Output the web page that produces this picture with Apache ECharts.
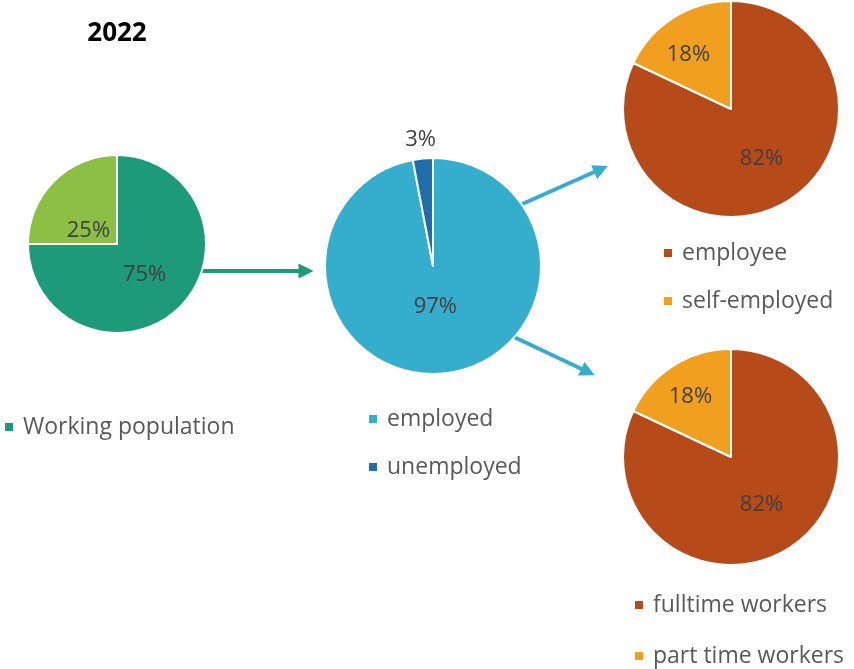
<!DOCTYPE html>
<html>
<head>
<meta charset="utf-8">
<script src="https://cdn.jsdelivr.net/npm/echarts@6/dist/echarts.min.js"></script>
<style>html,body{margin:0;padding:0;background:#fff;}#c{width:854px;height:669px;}</style>
</head>
<body>
<div id="c"></div>
<script>
const titleText = '2022';
const populationNames = ['Working population', 'Non-working population'];
const populationValues = [75, 25];
const employmentNames = ['employed', 'unemployed'];
const employmentValues = [97, 3];
const workerTypeNames = ['employee', 'self-employed'];
const workerTypeValues = [82, 18];
const workTimeNames = ['fulltime workers', 'part time workers'];
const workTimeValues = [82, 18];

const FONT = 'Open Sans';
const chart = echarts.init(document.getElementById('c'), null, {renderer: 'canvas'});

function pieSeries(names, values, colors, center, radius, offsets) {
  return {
    type: 'pie',
    center: center,
    radius: radius,
    startAngle: 90,
    clockwise: true,
    avoidLabelOverlap: false,
    silent: true,
    itemStyle: {borderColor: '#fff', borderWidth: 2},
    label: {show: true, position: 'inside', formatter: '{c}%', color: '#404040', fontSize: 22, fontFamily: FONT},
    labelLine: {show: false},
    data: names.map((n, i) => ({
      name: n, value: values[i],
      itemStyle: {color: colors[i]},
      label: {offset: offsets[i]}
    }))
  };
}

function legend(data, left, top, gap) {
  return {
    data: data, left: left, top: top, orient: 'vertical',
    icon: 'rect', itemWidth: 10, itemHeight: 10, itemGap: gap,
    padding: 0, height: 200,
    selectedMode: false,
    textStyle: {fontSize: 23, lineHeight: 24, color: '#595959', fontFamily: FONT, padding: [0, 0, 0, 4]}
  };
}

const green = '#1D9A78', blue = '#35AECE';
const arrows = [
  {coords: [[200, 271], [306, 271]], lineStyle: {color: green}},
  {coords: [[520, 205], [601, 169]], lineStyle: {color: blue}},
  {coords: [[514, 337], [588, 372]], lineStyle: {color: blue}}
];

chart.setOption({
  animation: false,
  title: {text: titleText, left: 117, top: 19, textAlign: 'center', padding: 0,
    textStyle: {fontSize: 26, lineHeight: 30, fontWeight: 'bold', color: '#000', fontFamily: FONT}},
  grid: {left: 0, right: 0, top: 0, bottom: 0, show: false},
  xAxis: {type: 'value', min: 0, max: 854, show: false},
  yAxis: {type: 'value', min: 0, max: 669, inverse: true, show: false},
  legend: [
    legend(['Working population'], 3, 415, 24),
    legend(employmentNames, 367, 407, 24),
    legend(workerTypeNames, 662, 241, 24),
    legend(workTimeNames, 633, 593, 27)
  ],
  series: [
    pieSeries(populationNames, populationValues, ['#1D9A78', '#8CBF44'], [117, 244], 89, [[-6, -3], [5, 20]]),
    pieSeries(employmentNames, employmentValues, ['#35AECE', '#1F6DA9'], [433, 266], 108, [[-3, -16], [-7, -70]]),
    pieSeries(workerTypeNames, workerTypeValues, ['#B64A19', '#F09F1E'], [731, 109], 108, [[0, 2], [-12, -6]]),
    pieSeries(workTimeNames, workTimeValues, ['#B64A19', '#F09F1E'], [731, 457], 108, [[0, 0], [-10, -12]]),
    {
      type: 'lines', coordinateSystem: 'cartesian2d', silent: true,
      symbol: ['none', 'triangle'], symbolSize: [16, 15],
      lineStyle: {width: 4, opacity: 1, curveness: 0},
      data: arrows
    }
  ]
});
</script>
</body>
</html>
